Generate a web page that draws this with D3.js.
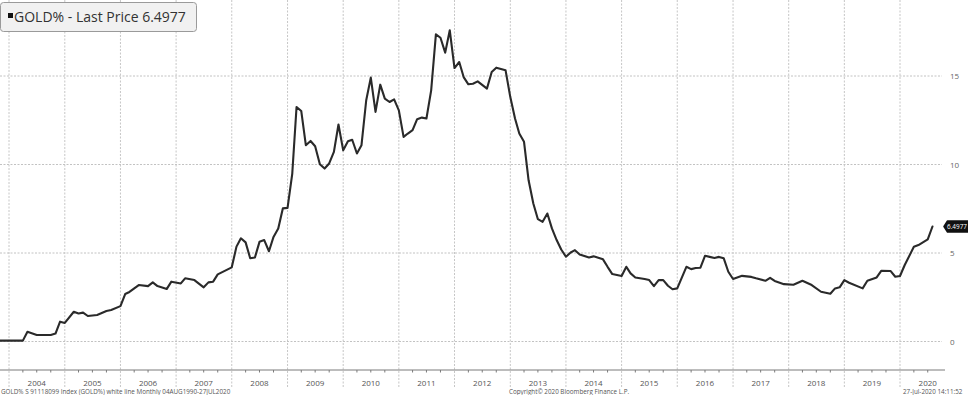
<!DOCTYPE html>
<html>
<head>
<meta charset="utf-8">
<script src="https://cdn.jsdelivr.net/npm/d3@7"></script>
<style>
  html, body { margin: 0; padding: 0; background: #fff; }
  svg { display: block; font-family: "Open Sans", "DejaVu Sans", sans-serif; }
</style>
</head>
<body>
<div id="chart"></div>
<script>
// month-end readings of GOLD%
const months = [
  "2003-10","2004-03","2004-04","2004-06","2004-09","2004-10","2004-11","2004-12",
  "2005-02","2005-03","2005-04","2005-05","2005-07","2005-09","2005-10","2005-12",
  "2006-01","2006-02","2006-04","2006-06","2006-07","2006-08","2006-10","2006-11",
  "2007-01","2007-02","2007-04","2007-06","2007-07","2007-08","2007-09","2007-12",
  "2008-01","2008-02","2008-03","2008-04","2008-05","2008-06","2008-07","2008-08",
  "2008-09","2008-10","2008-11","2008-12",
  "2009-01","2009-02","2009-03","2009-04","2009-05","2009-06","2009-07","2009-08",
  "2009-09","2009-10","2009-11","2009-12",
  "2010-01","2010-02","2010-03","2010-04","2010-05","2010-06","2010-07","2010-08",
  "2010-09","2010-10","2010-11","2010-12",
  "2011-01","2011-02","2011-03","2011-04","2011-05","2011-06","2011-07","2011-08",
  "2011-09","2011-10","2011-11","2011-12",
  "2012-01","2012-02","2012-03","2012-04","2012-05","2012-07","2012-08","2012-09",
  "2012-11","2012-12",
  "2013-01","2013-02","2013-03","2013-04","2013-05","2013-06","2013-07","2013-08",
  "2013-09","2013-10","2013-11","2013-12",
  "2014-01","2014-02","2014-03","2014-05","2014-06","2014-08","2014-09","2014-10",
  "2014-12",
  "2015-01","2015-02","2015-03","2015-05","2015-06","2015-07","2015-08","2015-09",
  "2015-10","2015-11","2015-12",
  "2016-02","2016-03","2016-04","2016-05","2016-06","2016-07","2016-08","2016-09",
  "2016-10","2016-11","2016-12",
  "2017-02","2017-04","2017-05","2017-07","2017-08","2017-09","2017-11",
  "2018-01","2018-03","2018-05","2018-07","2018-09","2018-10","2018-11","2018-12",
  "2019-01","2019-04","2019-05","2019-07","2019-08","2019-10","2019-11","2019-12",
  "2020-01","2020-03","2020-04","2020-06","2020-07"
];
const values = [
  0.05,0.05,0.55,0.37,0.37,0.45,1.12,1.05,
  1.68,1.58,1.63,1.44,1.50,1.72,1.78,2.00,
  2.68,2.80,3.19,3.13,3.34,3.13,2.97,3.38,
  3.28,3.57,3.47,3.06,3.34,3.38,3.79,4.19,
  5.36,5.83,5.60,4.70,4.75,5.63,5.73,5.10,
  5.91,6.39,7.52,7.55,
  9.49,13.25,13.02,11.09,11.33,11.03,10.02,9.77,
  10.06,10.71,12.26,10.80,
  11.31,11.40,10.62,11.09,13.63,14.91,12.97,14.51,
  13.72,13.53,13.68,13.06,
  11.56,11.75,11.94,12.56,12.65,12.60,14.19,17.35,
  17.16,16.32,17.58,15.45,
  15.79,14.94,14.53,14.56,14.70,14.29,15.23,15.47,
  15.32,13.81,
  12.60,11.75,11.28,9.11,7.80,6.91,6.76,7.23,
  6.39,5.73,5.20,4.79,
  5.03,5.16,4.92,4.75,4.81,4.64,4.22,3.81,
  3.70,
  4.22,3.85,3.62,3.53,3.47,3.13,3.47,3.47,
  3.15,2.95,3.00,
  4.22,4.09,4.15,4.17,4.84,4.78,4.72,4.78,
  4.70,3.94,3.53,
  3.71,3.65,3.57,3.43,3.60,3.42,3.24,
  3.21,3.43,3.19,2.81,2.70,3.00,3.06,3.47,
  3.32,3.00,3.43,3.62,4.00,3.98,3.66,3.70,
  4.32,5.35,5.45,5.77,6.4977
];
const yTicks = [0, 5, 10, 15];
const yearLabels = d3.range(2004, 2021);
const lastPrice = 6.4977;

const width = 968, height = 395;
const axisY = 370;

const svg = d3.select("#chart").append("svg")
    .attr("width", width)
    .attr("height", height);

// month-end points sit at the start of the following month
const parseMonth = d3.timeParse("%Y-%m");
const data = months.map((m, i) => ({
    date: d3.timeMonth.offset(parseMonth(m), 1),
    value: values[i]
}));

const x = d3.scaleTime()
    .domain([new Date(2004, 0, 1), new Date(2020, 0, 1)])
    .range([9, 900]);

const y = d3.scaleLinear()
    .domain([0, 15])
    .range([341.5, 76]);

const plotRight = 942;

// horizontal grid
svg.append("g")
    .selectAll("line")
    .data(yTicks)
    .enter()
    .append("line")
    .attr("x1", 0)
    .attr("x2", plotRight)
    .attr("y1", d => y(d))
    .attr("y2", d => y(d))
    .attr("stroke", "#c2c2c2")
    .attr("stroke-width", 1)
    .attr("stroke-dasharray", "2,1.5");

// vertical year grid
const yearStarts = d3.timeYear.range(new Date(2004, 0, 1), new Date(2020, 1, 1));
svg.append("g")
    .selectAll("line")
    .data(yearStarts)
    .enter()
    .append("line")
    .attr("x1", d => x(d))
    .attr("x2", d => x(d))
    .attr("y1", 0)
    .attr("y2", 388)
    .attr("stroke", "#c6c6c6")
    .attr("stroke-width", 1)
    .attr("stroke-dasharray", "2,1.5");

// bottom axis line with quarter ticks
svg.append("line")
    .attr("x1", 0)
    .attr("x2", plotRight + 3)
    .attr("y1", axisY)
    .attr("y2", axisY)
    .attr("stroke", "#7a7a7a")
    .attr("stroke-width", 1);

const quarters = d3.timeMonth.every(3).range(new Date(2003, 9, 1), new Date(2020, 9, 1));
svg.append("g")
    .selectAll("line")
    .data(quarters.filter(d => d.getMonth() !== 0))
    .enter()
    .append("line")
    .attr("x1", d => x(d))
    .attr("x2", d => x(d))
    .attr("y1", axisY)
    .attr("y2", axisY + 2.5)
    .attr("stroke", "#7a7a7a")
    .attr("stroke-width", 1);

// year labels, centred in each year
svg.append("g")
    .selectAll("text")
    .data(yearLabels)
    .enter()
    .append("text")
    .attr("x", d => x(new Date(d, 6, 1)))
    .attr("y", 386)
    .attr("text-anchor", "middle")
    .style("font-size", "8px")
    .style("fill", "#555")
    .text(d => d);

// right y labels
svg.append("g")
    .selectAll("text")
    .data(yTicks)
    .enter()
    .append("text")
    .attr("x", 950)
    .attr("y", d => y(d) + 3)
    .style("font-size", "8px")
    .style("fill", "#666")
    .text(d => d);

// the series
const line = d3.line()
    .x(d => x(d.date))
    .y(d => y(d.value));

svg.append("path")
    .datum(data)
    .attr("d", line)
    .attr("fill", "none")
    .attr("stroke", "#2a2a2a")
    .attr("stroke-width", 2.1)
    .attr("stroke-linejoin", "round")
    .attr("stroke-linecap", "round");

// last price tag
const tagY = y(lastPrice);
svg.append("path")
    .attr("d", `M944,${tagY} L947.5,${tagY - 5.5} L970,${tagY - 5.5} L970,${tagY + 5.5} L947.5,${tagY + 5.5} Z`)
    .attr("fill", "#111")
    .attr("stroke", "#111")
    .attr("stroke-linejoin", "round")
    .attr("stroke-width", 1.5);

svg.append("text")
    .attr("x", 947)
    .attr("y", tagY + 2.3)
    .style("font-size", "6.4px")
    .style("fill", "#fff")
    .text(lastPrice.toFixed(4));

// legend box
const legend = svg.append("g");
legend.append("rect")
    .attr("x", 0.5)
    .attr("y", 2.5)
    .attr("width", 196)
    .attr("height", 29)
    .attr("rx", 3)
    .attr("fill", "#f1f1f1")
    .attr("stroke", "#9a9a9a")
    .attr("stroke-width", 1);

legend.append("rect")
    .attr("x", 8)
    .attr("y", 13)
    .attr("width", 5)
    .attr("height", 5)
    .attr("fill", "#111");

legend.append("text")
    .attr("x", 14)
    .attr("y", 22)
    .style("font-size", "14px")
    .style("fill", "#333")
    .text("GOLD%  - Last Price 6.4977");

// footer
const footer = svg.append("g")
    .style("font-size", "6.3px")
    .style("fill", "#555");

footer.append("text")
    .attr("x", 1)
    .attr("y", 394)
    .text("GOLD% S 91118099 Index (GOLD%) white line  Monthly 04AUG1990-27JUL2020");

footer.append("text")
    .attr("x", 509)
    .attr("y", 394)
    .text("Copyright© 2020 Bloomberg Finance L.P.");

footer.append("text")
    .attr("x", 903)
    .attr("y", 394)
    .text("27-Jul-2020 14:11:52");
</script>
</body>
</html>
